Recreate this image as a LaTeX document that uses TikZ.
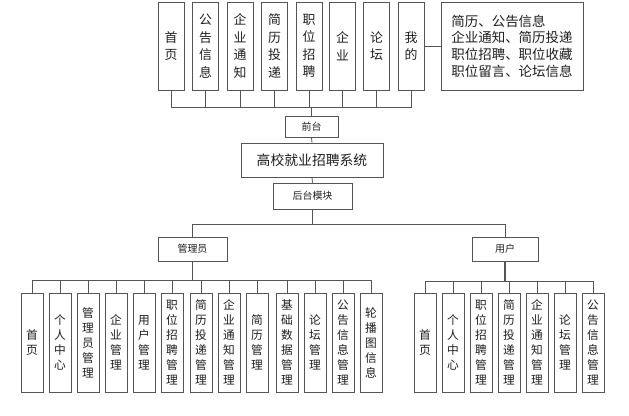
\documentclass[tikz,border=0pt]{standalone}
\usepackage{fontspec}
\setmainfont{Noto Sans CJK SC}
\usepackage{xcolor}
\definecolor{linecol}{RGB}{85,85,85}
\definecolor{textcol}{RGB}{30,30,30}

\begin{document}
\begin{tikzpicture}[x=0.03cm, y=-0.03cm,
  box/.style={draw=linecol, line width=0.7pt, inner sep=0pt, text=textcol},
  topbox/.style={box, minimum width=0.78cm, minimum height=2.64cm,
                 align=center, font=\fontsize{11}{15}\selectfont},
  subbox/.style={box, minimum width=0.66cm, minimum height=2.97cm,
                 align=center, font=\fontsize{10}{12.8}\selectfont},
  midbox/.style={box, font=\fontsize{8.5}{10}\selectfont},
  conn/.style={draw=linecol, line width=0.7pt}]
  \useasboundingbox (0,0) rectangle (629,415);

  % front end
  \foreach \i/\xp/\txt in {1/171/{首\\页}, 2/205.5/{公\\告\\信\\息},
      3/240/{企\\业\\通\\知}, 4/274.5/{简\\历\\投\\递},
      5/309/{职\\位\\招\\聘}, 6/342.5/{企\\业}, 7/376.5/{论\\坛},
      8/411/{我\\的}}
    \node[topbox] (t\i) at (\xp,46) {\txt};
  \node[box, minimum width=4.26cm, minimum height=2.64cm, align=left,
        font=\fontsize{11.5}{14.2}\selectfont] (info) at (512,46)
    {简历、公告信息\\企业通知、简历投递\\职位招聘、职位收藏\\职位留言、论坛信息};
  \draw[conn] (t8.east) -- (info.west);

  \node[midbox, minimum width=1.59cm, minimum height=0.63cm] (qt) at (311.5,126.5) {前台};
  \coordinate (fbus) at (311.5,107);
  \draw[conn] (qt.north) -- (fbus);
  \foreach \i in {1,...,8}
    \draw[conn] (fbus) -| (t\i.south);

  % system
  \node[box, minimum width=4.26cm, minimum height=1.02cm,
        font=\fontsize{11.8}{14}\selectfont] (sys) at (312,160) {高校就业招聘系统};
  \draw[conn] (qt.south) -- (sys.north);
  \node[midbox, minimum width=2.37cm, minimum height=0.78cm] (ht) at (312.5,196) {后台模块};
  \draw[conn] (sys.south) -- (ht.north);

  % back end
  \node[midbox, minimum width=2.07cm, minimum height=0.72cm] (adm) at (192.5,249) {管理员};
  \node[midbox, minimum width=1.98cm, minimum height=0.72cm] (usr) at (505,249) {用户};
  \coordinate (bbus) at (312.5,224);
  \draw[conn] (ht.south) -- (bbus);
  \draw[conn] (bbus) -| (adm.north);
  \draw[conn] (bbus) -| (usr.north);

  % admin modules
  \coordinate (abus) at (192.5,280);
  \draw[conn, line width=1.2pt] (adm.south) -- (abus);
  \foreach \i/\xp/\txt in {1/32/{首\\页}, 2/60/{个\\人\\中\\心},
      3/88/{管\\理\\员\\管\\理}, 4/116/{企\\业\\管\\理},
      5/144/{用\\户\\管\\理}, 6/172/{职\\位\\招\\聘\\管\\理},
      7/201/{简\\历\\投\\递\\管\\理}, 8/229/{企\\业\\通\\知\\管\\理},
      9/257/{简\\历\\管\\理}, 10/287/{基\\础\\数\\据\\管\\理},
      11/315/{论\\坛\\管\\理}, 12/343/{公\\告\\信\\息\\管\\理},
      13/371/{轮\\播\\图\\信\\息}} {
    \node[subbox] (a\i) at (\xp,342.5) {\txt};
    \draw[conn] (abus) -| (a\i.north);
  }

  % user modules
  \coordinate (ubus) at (505,281);
  \draw[conn, line width=1.2pt] (usr.south) -- (ubus);
  \foreach \i/\xp/\txt in {1/425/{首\\页}, 2/453/{个\\人\\中\\心},
      3/481/{职\\位\\招\\聘\\管\\理}, 4/509/{简\\历\\投\\递\\管\\理},
      5/537/{企\\业\\通\\知\\管\\理}, 6/565/{论\\坛\\管\\理},
      7/593/{公\\告\\信\\息\\管\\理}} {
    \node[subbox] (u\i) at (\xp,342.5) {\txt};
    \draw[conn] (ubus) -| (u\i.north);
  }
\end{tikzpicture}
\end{document}
